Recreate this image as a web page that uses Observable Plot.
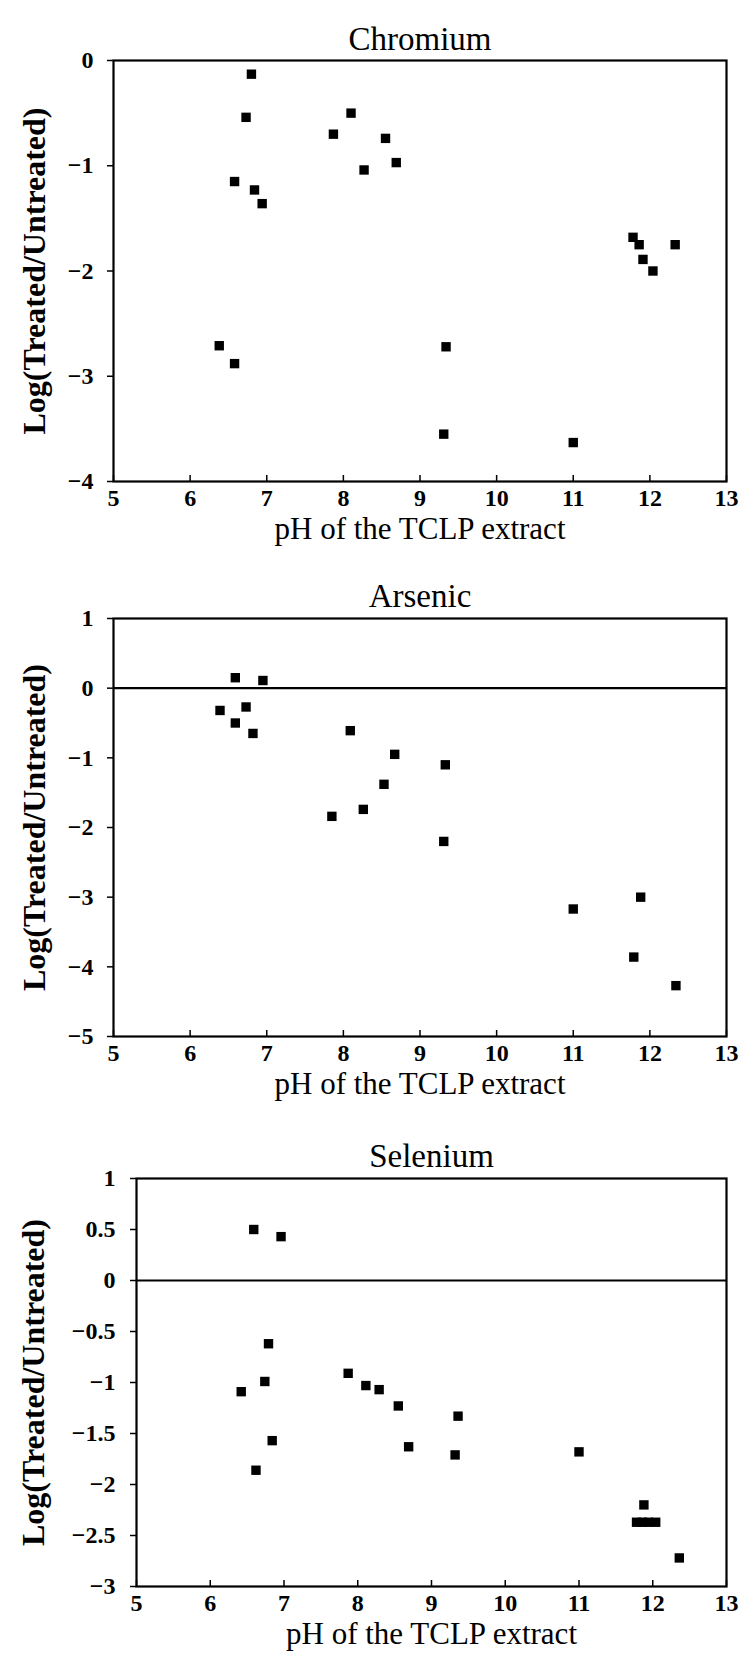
<!DOCTYPE html>
<html><head><meta charset="utf-8">
<script src="https://cdn.jsdelivr.net/npm/d3@7"></script>
<script src="https://cdn.jsdelivr.net/npm/@observablehq/plot@0.6"></script>
<style>
body{margin:0;background:#fff;}
#chart svg{display:block;}
</style>
</head><body><div id="chart"></div>
<script>
const xTicks = [5, 6, 7, 8, 9, 10, 11, 12, 13];
const xTitle = "pH of the TCLP extract";
const yTitle = "Log(Treated/Untreated)";

const crTitle = "Chromium";
const crPH  = [6.38, 6.58, 6.58, 6.73, 6.80, 6.84, 6.94, 7.87, 8.10, 8.27, 8.55, 8.69, 9.31, 9.34, 11.00, 11.78, 11.86, 11.91, 12.04, 12.33];
const crLog = [-2.71, -1.15, -2.88, -0.54, -0.13, -1.23, -1.36, -0.70, -0.50, -1.04, -0.74, -0.97, -3.55, -2.72, -3.63, -1.68, -1.75, -1.89, -2.00, -1.75];
const crTicks = [0, -1, -2, -3, -4];

const asTitle = "Arsenic";
const asPH  = [6.39, 6.59, 6.59, 6.73, 6.82, 6.95, 7.85, 8.09, 8.26, 8.53, 8.67, 9.33, 9.31, 11.00, 11.88, 11.79, 12.34];
const asLog = [-0.32, 0.15, -0.50, -0.27, -0.65, 0.11, -1.84, -0.61, -1.74, -1.38, -0.95, -1.10, -2.20, -3.17, -3.00, -3.86, -4.27];
const asTicks = [1, 0, -1, -2, -3, -4, -5];

const seTitle = "Selenium";
const sePH  = [6.59, 6.96, 6.42, 6.74, 6.79, 6.84, 6.62, 7.87, 8.11, 8.29, 8.55, 8.69, 9.36, 9.32, 11.00, 11.88, 11.78, 11.86, 11.94, 12.04, 12.36];
const seLog = [0.50, 0.43, -1.09, -0.99, -0.62, -1.57, -1.86, -0.91, -1.03, -1.07, -1.23, -1.63, -1.33, -1.71, -1.68, -2.20, -2.37, -2.37, -2.37, -2.37, -2.72];
const seTicks = [1, 0.5, 0, -0.5, -1, -1.5, -2, -2.5, -3];

const font = "'Liberation Serif', 'DejaVu Serif', serif";
const fmt = d3.format("~g");

function panel({title, ph, logv, yTicks, zeroLine, marginLeft, marginTop, frameHeight, marginBottom, titleDy, yLabelDx, yTickDx}) {
  const data = ph.map((x, i) => ({x, y: logv[i]}));
  return Plot.plot({
    width: 742,
    height: marginTop + frameHeight + marginBottom,
    marginLeft, marginRight: 16, marginTop, marginBottom,
    style: {fontFamily: font, background: "white", color: "black"},
    x: {domain: [5, 13], axis: null},
    y: {domain: [d3.min(yTicks), d3.max(yTicks)], axis: null},
    marks: [
      zeroLine ? Plot.ruleY([0], {stroke: "black", strokeWidth: 2.2}) : null,
      Plot.frame({stroke: "black", strokeWidth: 2.2}),
      // tick marks: inward on x, outward on y
      Plot.axisX(xTicks, {tickSize: -6, tickFormat: () => "", label: null, strokeWidth: 1.5}),
      Plot.axisY(yTicks, {tickSize: 6, tickFormat: () => "", label: null, strokeWidth: 1.5}),
      // tick labels
      Plot.text(xTicks, {x: d => d, frameAnchor: "bottom", dy: 24, text: fmt, fontSize: 24, fontWeight: "bold", fontFamily: font}),
      Plot.text(yTicks, {y: d => d, frameAnchor: "left", dx: yTickDx, textAnchor: "end", text: fmt, fontSize: 24, fontWeight: "bold", fontFamily: font}),
      // titles
      Plot.text([title], {frameAnchor: "top", dy: titleDy, fontSize: 33, text: d => d, fontFamily: font}),
      Plot.text([xTitle], {frameAnchor: "bottom", dy: 57, fontSize: 31, text: d => d, fontFamily: font}),
      Plot.text([yTitle], {frameAnchor: "left", dx: yLabelDx, rotate: -90, textAnchor: "middle", lineAnchor: "middle", fontSize: 32, fontWeight: "bold", text: d => d, fontFamily: font}),
      // data
      Plot.dot(data, {x: "x", y: "y", symbol: "square", r: 5.3, fill: "black", stroke: "none"})
    ]
  });
}

const root = document.getElementById("chart");
root.append(panel({title: crTitle, ph: crPH, logv: crLog, yTicks: crTicks, zeroLine: false,
  marginLeft: 113, marginTop: 60, frameHeight: 421, marginBottom: 79, titleDy: -34, yLabelDx: -79, yTickDx: -20}));
root.append(panel({title: asTitle, ph: asPH, logv: asLog, yTicks: asTicks, zeroLine: true,
  marginLeft: 113, marginTop: 58, frameHeight: 418, marginBottom: 76, titleDy: -35, yLabelDx: -79, yTickDx: -20}));
root.append(panel({title: seTitle, ph: sePH, logv: seLog, yTicks: seTicks, zeroLine: true,
  marginLeft: 136, marginTop: 66, frameHeight: 408, marginBottom: 76, titleDy: -35, yLabelDx: -103, yTickDx: -21}));
</script>
</body></html>
